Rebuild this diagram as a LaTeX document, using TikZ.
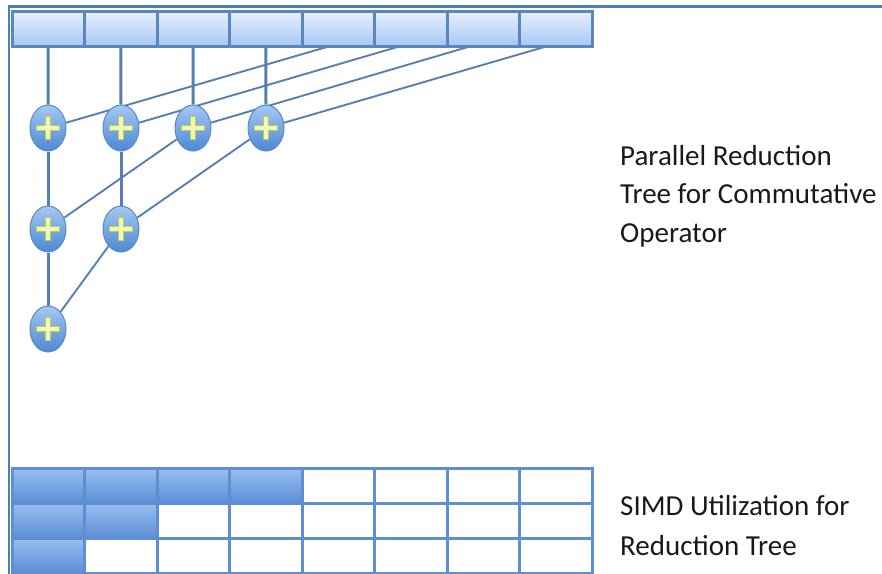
\documentclass[tikz,border=0pt]{standalone}
\usepackage{fontspec}
\setmainfont{Carlito}
\usetikzlibrary{shapes.geometric,backgrounds}
\definecolor{frameblue}{HTML}{4A7EC0}
\definecolor{cellline}{HTML}{5B87BF}
\definecolor{barTop}{HTML}{E8F0FF}
\definecolor{barBot}{HTML}{A8C8F2}
\definecolor{fillTop}{HTML}{98BEF0}
\definecolor{fillBot}{HTML}{5A8ED6}
\definecolor{gridline}{HTML}{5E8FD2}
\definecolor{ballTop}{HTML}{A4C8F2}
\definecolor{ballBot}{HTML}{4C88D2}
\definecolor{ballLine}{HTML}{5A8AC6}
\definecolor{plusOut}{HTML}{B8CC6A}
\definecolor{plusIn}{HTML}{F2F8B0}
\definecolor{wireblue}{HTML}{5680B4}
\tikzset{
  barcell/.style={draw=cellline, line width=3pt, top color=barTop, bottom color=barBot,
    minimum width=72.5pt, minimum height=35pt, inner sep=0pt, outer sep=0pt},
  gridfull/.style={draw=gridline, line width=3pt, top color=fillTop, bottom color=fillBot,
    minimum width=72.5pt, minimum height=35pt, inner sep=0pt, outer sep=0pt},
  gridempty/.style={draw=gridline, line width=3pt, fill=white,
    minimum width=72.5pt, minimum height=35pt, inner sep=0pt, outer sep=0pt},
  addnode/.style={ellipse, draw=ballLine, line width=1pt, top color=ballTop, bottom color=ballBot,
    minimum width=36pt, minimum height=46pt, inner sep=0pt,
    path picture={
      \draw[plusOut, line width=6pt] ([xshift=-12pt]path picture bounding box.center) -- ([xshift=12pt]path picture bounding box.center);
      \draw[plusOut, line width=6pt] ([yshift=-12pt]path picture bounding box.center) -- ([yshift=12pt]path picture bounding box.center);
      \draw[plusIn, line width=3.6pt] ([xshift=-11pt]path picture bounding box.center) -- ([xshift=11pt]path picture bounding box.center);
      \draw[plusIn, line width=3.6pt] ([yshift=-11pt]path picture bounding box.center) -- ([yshift=11pt]path picture bounding box.center);
    }},
  vwire/.style={draw=wireblue, line width=3pt},
  dwire/.style={draw=wireblue, line width=1.9pt},
  label/.style={font=\fontsize{29}{38.5}\selectfont, align=left, anchor=base west, inner sep=0pt, text=black!90}
}
\begin{document}
\begin{tikzpicture}[x=1pt,y=-1pt]
\useasboundingbox (0,0) rectangle (882,573);
% frame
\draw[frameblue, line width=2.4pt] (882,6.5) -- (9,6.5) -- (9,580);
% top bar
\foreach \i in {1,...,8}{
  \node[barcell] (c\i) at ({12+72.5*(\i-0.5)},28.5) {};
}
% adder nodes
\node[addnode] (a1) at (48,128) {};
\node[addnode] (a2) at (121,128) {};
\node[addnode] (a3) at (193,128) {};
\node[addnode] (a4) at (266,128) {};
\node[addnode] (b1) at (48,229) {};
\node[addnode] (b2) at (121,229) {};
\node[addnode] (d1) at (48,329) {};
% wires
\begin{scope}[on background layer]
\draw[vwire] (c1.south) -- (a1.north);
\draw[vwire] (c2.south) -- (a2.north);
\draw[vwire] (c3.south) -- (a3.north);
\draw[vwire] (c4.south) -- (a4.north);
\draw[dwire] ([xshift=-8pt]c5.south) -- (a1);
\draw[dwire] ([xshift=-10pt]c6.south) -- (a2);
\draw[dwire] ([xshift=-12pt]c7.south) -- (a3);
\draw[dwire] ([xshift=-8pt]c8.south) -- (a4);
\draw[vwire] (a1) -- (b1);
\draw[vwire] (a2) -- (b2);
\draw[dwire] (a3) -- (b1);
\draw[dwire] (a4) -- (b2);
\draw[vwire] (b1) -- (d1);
\draw[dwire] (b2) -- (d1);
\end{scope}
% SIMD grid
\foreach \r/\n in {1/4,2/2,3/1}{
  \foreach \c in {1,...,8}{
    \pgfmathtruncatemacro{\full}{\c<=\n ? 1 : 0}
    \ifnum\full=1
      \node[gridfull] (g\r\c) at ({12+72.5*(\c-0.5)},{468.5+35*(\r-0.5)}) {};
    \else
      \node[gridempty] (g\r\c) at ({12+72.5*(\c-0.5)},{468.5+35*(\r-0.5)}) {};
    \fi
  }
}
% labels (anchor = baseline of last line)
\node[label] (t1) at (620,242) {Parallel Reduction\\Tree for Commutative\\Operator};
\node[label, font=\fontsize{29}{40}\selectfont] (t2) at (620,555) {SIMD Utilization for\\Reduction Tree};
\end{tikzpicture}
\end{document}
